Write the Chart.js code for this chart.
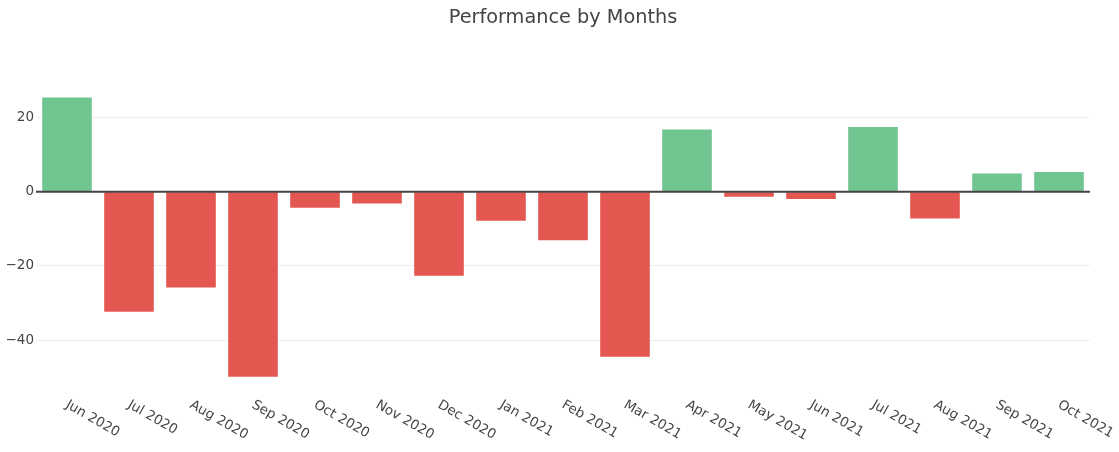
<!DOCTYPE html>
<html>
<head>
<meta charset="utf-8">
<script src="https://cdn.jsdelivr.net/npm/chart.js@4"></script>
<style>
  html, body { margin: 0; padding: 0; background: #fff; }
  #wrap { width: 1119px; height: 452px; }
</style>
</head>
<body>
<div id="wrap"><canvas id="chart"></canvas></div>
<script>
const months = ['Jun 2020', 'Jul 2020', 'Aug 2020', 'Sep 2020', 'Oct 2020', 'Nov 2020', 'Dec 2020', 'Jan 2021', 'Feb 2021',
  'Mar 2021', 'Apr 2021', 'May 2021', 'Jun 2021', 'Jul 2021', 'Aug 2021', 'Sep 2021', 'Oct 2021'];
const performance = [25.3, -32.3, -25.8, -49.8, -4.3, -3.2, -22.6, -7.8, -13.1, -44.4, 16.7, -1.4, -2.0, 17.4, -7.2, 4.9, 5.3];
const yTicks = [-40, -20, 0, 20];
const chartTitle = 'Performance by Months';

const FONT = '"DejaVu Sans", Verdana, sans-serif';
const TEXT = '#444';

// plotly-style extras: title, zero line over bars, labels slanted down-right from the tick
const plotlyBits = {
  id: 'plotlyBits',
  afterDatasetsDraw(chart) {
    const ctx = chart.ctx;
    const x = chart.scales.x, y = chart.scales.y;
    const y0 = y.getPixelForValue(0);
    ctx.save();
    ctx.strokeStyle = '#444';
    ctx.lineWidth = 2;
    ctx.beginPath();
    ctx.moveTo(chart.chartArea.left, y0);
    ctx.lineTo(chart.chartArea.right, y0);
    ctx.stroke();

    ctx.fillStyle = TEXT;
    ctx.textAlign = 'center';
    ctx.textBaseline = 'middle';
    ctx.font = '19.3px ' + FONT;
    ctx.fillText(chartTitle, 563, 18);

    ctx.font = '13.5px ' + FONT;
    ctx.textAlign = 'left';
    ctx.textBaseline = 'top';
    months.forEach((m, i) => {
      const px = x.getPixelForTick(i);
      ctx.save();
      ctx.translate(px + 3, chart.chartArea.bottom + 6);
      ctx.rotate(Math.PI / 6);
      ctx.fillText(m, 0, 0);
      ctx.restore();
    });
    ctx.restore();
  }
};

new Chart(document.getElementById('chart'), {
  type: 'bar',
  data: {
    labels: months,
    datasets: [{
      data: performance,
      backgroundColor: performance.map(v => v >= 0 ? '#71c591' : '#e45751'),
      borderWidth: 0,
      barPercentage: 0.8,
      categoryPercentage: 1.0
    }]
  },
  options: {
    responsive: true,
    maintainAspectRatio: false,
    animation: false,
    layout: { padding: { left: 0, right: 29, top: 82, bottom: 0 } },
    plugins: {
      legend: { display: false },
      tooltip: { enabled: false },
      title: { display: false }
    },
    scales: {
      x: {
        grid: { display: false },
        border: { display: false },
        ticks: { display: false },
        afterFit(scale) { scale.height = 60; }
      },
      y: {
        min: -53.9,
        max: 29.5,
        afterBuildTicks(scale) { scale.ticks = yTicks.map(v => ({ value: v })); },
        afterFit(scale) { scale.width = 36; },
        border: { display: false },
        grid: {
          drawTicks: false,
          color: ctx => ctx.tick && ctx.tick.value === 0 ? 'rgba(0,0,0,0)' : '#eee',
          lineWidth: 1
        },
        ticks: {
          padding: 2,
          color: TEXT,
          font: { family: FONT, size: 13.5 },
          callback: v => String(v).replace('-', '\u2212')
        }
      }
    }
  },
  plugins: [plotlyBits]
});
</script>
</body>
</html>
